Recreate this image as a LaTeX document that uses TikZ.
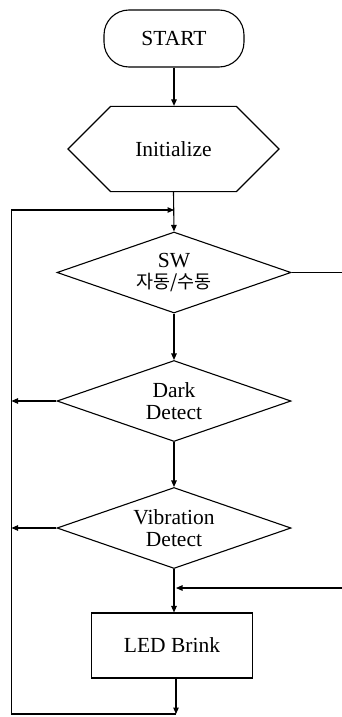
\documentclass[tikz,border=0pt]{standalone}
\usepackage{fontspec}
\setmainfont{Liberation Serif}
\newfontfamily\kr{Noto Sans CJK KR}
\usetikzlibrary{shapes.geometric,shapes.misc,arrows.meta}
\begin{document}
\begin{tikzpicture}[x=1pt,y=-1pt,
  every node/.style={font=\fontsize{21.5}{21.5}\selectfont, inner sep=0pt, align=center},
  box/.style={draw, line width=1.1pt, fill=white},
  decide/.style={box, diamond, aspect=2.9, minimum width=234pt, minimum height=81pt},
  arr/.style={line width=1.1pt, -{Triangle[length=6.5pt,width=5.5pt]}},
  ln/.style={line width=1.1pt}]
\useasboundingbox (0,0) rectangle (342,717);
\node[box, rounded corners=25pt, minimum width=140pt, minimum height=57pt] (start) at (174,38.5) {START};
\node[box, chamfered rectangle, chamfered rectangle xsep=42pt, chamfered rectangle ysep=35pt, minimum width=211pt, minimum height=70pt] (init) at (173.5,149) {Initialize};
\node[decide] (sw) at (174,272.5) {SW\\{\kr\fontsize{18.5}{21.5}\selectfont 자동/수동}};
\node[decide] (dark) at (174,401) {Dark\\Detect};
\node[decide] (vib) at (174,528) {Vibration\\Detect};
\node[box, rectangle, minimum width=161pt, minimum height=65pt] (led) at (172,645.5) {LED Brink};
\coordinate (jtop) at (174,210);
\coordinate (lt) at (11.5,210);
\coordinate (lb) at (11.5,714);
\coordinate (jbot) at (176,714);
\coordinate (jr) at (176,588);
\coordinate (rt) at (360,272.5);
\coordinate (rb) at (360,588);
\draw[arr] (start.south) -- (start.south |- init.north);
\draw[arr] (init.south) -- (sw.north);
\draw[arr] (sw.south) -- (dark.north);
\draw[arr] (dark.south) -- (vib.north);
\draw[arr] (vib.south) -- (vib.south |- led.north);
\draw[arr] (led.south -| jbot) -- (jbot);
\draw[arr] (jbot) -- (lb) -- (lt) -- (jtop);
\draw[arr] (dark.west) -- (dark.west -| lt);
\draw[arr] (vib.west) -- (vib.west -| lt);
\draw[arr] (sw.east) -- (rt) -- (rb) -- (jr);
\end{tikzpicture}
\end{document}
